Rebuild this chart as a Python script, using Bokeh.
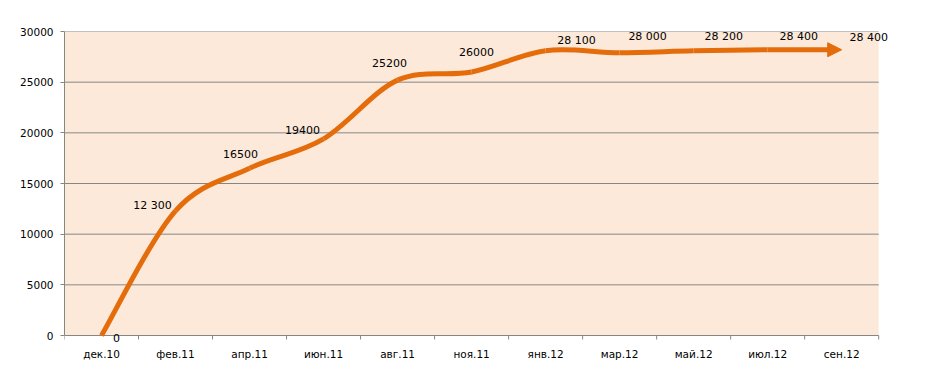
from bokeh.plotting import figure
from bokeh.models import (FixedTicker, LabelSet, ColumnDataSource, Arrow,
                          NormalHead, Range1d, BoxAnnotation)
from bokeh.core.properties import value
from bokeh.embed import file_html
from bokeh.resources import INLINE

# ---- data ----
months = ["дек.10", "фев.11", "апр.11", "июн.11", "авг.11", "ноя.11",
          "янв.12", "мар.12", "май.12", "июл.12", "сен.12"]
values = [0, 12300, 16500, 19400, 25200, 26000, 28100, 27900, 28100, 28200, 28200]
value_labels = ["0", "12 300", "16500", "19400", "25200", "26000",
                "28 100", "28 000", "28 200", "28 400", "28 400"]
y_ticks = [0, 5000, 10000, 15000, 20000, 25000, 30000]

# label placement offsets (screen px, dy upward) relative to each point
label_dx = [15, -23, -9, -21, -8, 5, 31, 28, 30, 31, 27]
label_dy = [-2, 5, 14, 9, 17, 20, 10, 16, 14, 13, 12]

ORANGE = "#E46C0A"
GRID = "#868686"
BG = "#FDE9D9"
FONT = "DejaVu Sans"

n = len(months)
xs = [i + 0.5 for i in range(n)]

# layout: value axis spans 304 px, with room below zero for the "0" label
AXIS_PX = 304
PAD_PX = 9
units_per_px = y_ticks[-1] / AXIS_PX

p = figure(width=914, height=367, output_backend="svg", toolbar_location=None,
           x_range=Range1d(0, n + 0.2),
           y_range=Range1d(-PAD_PX * units_per_px, y_ticks[-1]),
           min_border_left=64, min_border_right=21, min_border_top=31,
           min_border_bottom=367 - 31 - AXIS_PX - PAD_PX)
p.background_fill_color = "white"
p.border_fill_color = "white"
p.outline_line_color = None

# plot area background, horizontal gridlines and category tick marks
p.add_layout(BoxAnnotation(left=0, right=n, bottom=y_ticks[0], top=y_ticks[-1],
                           fill_color=BG, fill_alpha=1, line_color=None,
                           level="underlay"))
p.segment(x0=[0] * len(y_ticks), x1=[n] * len(y_ticks), y0=y_ticks, y1=y_ticks,
          line_color=GRID, line_width=1)
bounds = list(range(n + 1))
p.segment(x0=bounds, x1=bounds, y0=[0] * len(bounds),
          y1=[-4 * units_per_px] * len(bounds), line_color=GRID, line_width=1)

# smooth line (Excel-style Catmull-Rom Bezier)
pts = list(zip(xs, values))
x0s, y0s, x1s, y1s, cx0s, cy0s, cx1s, cy1s = ([] for _ in range(8))


def lerp(a, b, t):
    return (a[0] + (b[0] - a[0]) * t, a[1] + (b[1] - a[1]) * t)


for i in range(n - 1):
    pa = pts[i - 1] if i > 0 else pts[i]
    p1 = pts[i]
    p2 = pts[i + 1]
    pb = pts[i + 2] if i + 2 < n else pts[i + 1]
    c1 = (p1[0] + (p2[0] - pa[0]) / 6, p1[1] + (p2[1] - pa[1]) / 6)
    c2 = (p2[0] - (pb[0] - p1[0]) / 6, p2[1] - (pb[1] - p1[1]) / 6)
    end = p2
    if i == n - 2:
        # shorten the last segment so the arrow head sits at the final point
        t = 0.76
        q0, q1, q2 = lerp(p1, c1, t), lerp(c1, c2, t), lerp(c2, p2, t)
        r0, r1 = lerp(q0, q1, t), lerp(q1, q2, t)
        end = lerp(r0, r1, t)
        c1, c2 = q0, r0
    x0s.append(p1[0]); y0s.append(p1[1])
    x1s.append(end[0]); y1s.append(end[1])
    cx0s.append(c1[0]); cy0s.append(c1[1])
    cx1s.append(c2[0]); cy1s.append(c2[1])

p.bezier(x0=x0s, y0=y0s, x1=x1s, y1=y1s, cx0=cx0s, cy0=cy0s, cx1=cx1s, cy1=cy1s,
         line_color=ORANGE, line_width=5, line_cap="butt")

p.add_layout(Arrow(end=NormalHead(size=14, fill_color=ORANGE, line_color=ORANGE,
                                  line_width=1),
                   x_start=xs[-1] - 0.3, y_start=values[-1],
                   x_end=xs[-1], y_end=values[-1], line_alpha=0))

src = ColumnDataSource(dict(x=xs, y=values, t=value_labels, dx=label_dx, dy=label_dy))
p.add_layout(LabelSet(x="x", y="y", text="t", source=src, x_offset="dx",
                      y_offset="dy", text_align="center", text_baseline="middle",
                      text_font=value(FONT), text_font_size=value("11px"),
                      text_color="black"))

# axes
xa = p.xaxis[0]
xa.ticker = FixedTicker(ticks=xs, minor_ticks=[])
xa.major_label_overrides = {x: m for x, m in zip(xs, months)}
xa.major_tick_out = 0
xa.major_tick_in = 0
xa.minor_tick_out = 0
xa.minor_tick_in = 0
xa.axis_line_color = None
xa.major_label_standoff = 3
xa.major_label_text_font = FONT
xa.major_label_text_font_size = "10.5px"
xa.major_label_text_color = "black"

ya = p.yaxis[0]
ya.bounds = (y_ticks[0], y_ticks[-1])
ya.ticker = FixedTicker(ticks=y_ticks)
ya.major_tick_out = 4
ya.major_tick_in = 0
ya.minor_tick_out = 0
ya.minor_tick_in = 0
ya.major_tick_line_color = GRID
ya.axis_line_color = GRID
ya.major_label_standoff = 7
ya.major_label_text_font = FONT
ya.major_label_text_font_size = "10.5px"
ya.major_label_text_color = "black"

p.xgrid.visible = False
p.ygrid.visible = False

open("out.html", "w").write(file_html(p, INLINE))
